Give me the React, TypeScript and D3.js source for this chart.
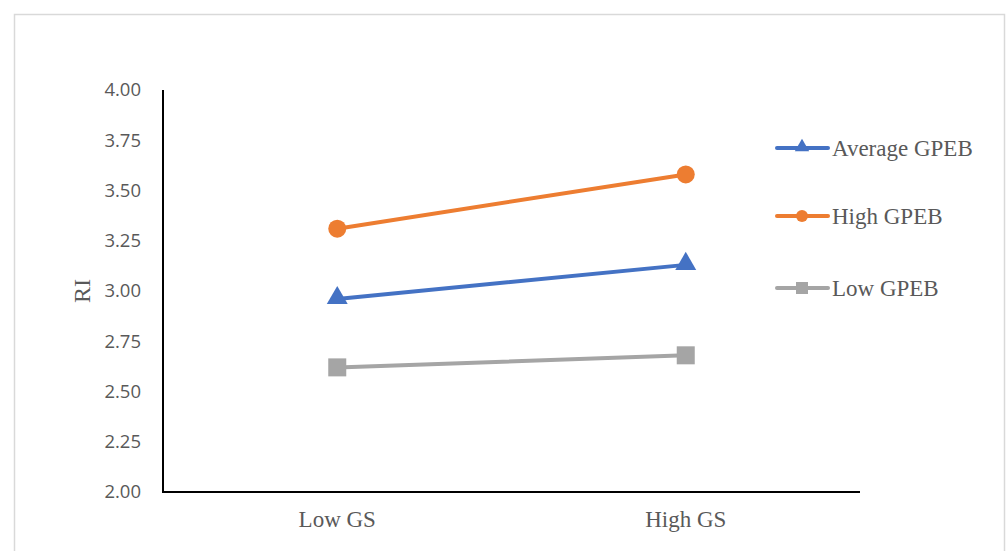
import React from "react";
import * as d3 from "d3";

const categories = ["Low GS", "High GS"];
const seriesNames = ["Average GPEB", "High GPEB", "Low GPEB"];
const averageValues = [2.96, 3.13];
const highValues = [3.31, 3.58];
const lowValues = [2.62, 2.68];
const yTicks = [2.0, 2.25, 2.5, 2.75, 3.0, 3.25, 3.5, 3.75, 4.0];

const colors = ["#4472C4", "#ED7D31", "#A5A5A5"];
const markers = ["triangle", "circle", "square"];
const seriesValues = [averageValues, highValues, lowValues];

const W = 1006;
const H = 551;
const plot = { left: 163, right: 860, top: 90, bottom: 492 };

function Marker({ kind, x, y, color }: { kind: string; x: number; y: number; color: string }) {
  if (kind === "circle") return <circle cx={x} cy={y} r={9} fill={color} />;
  if (kind === "square") return <rect x={x - 9} y={y - 9} width={18} height={18} fill={color} />;
  const sym = d3.symbol().type(d3.symbolTriangle).size(190)();
  return <path d={sym || ""} transform={`translate(${x},${y - 1})`} fill={color} />;
}

export default function App() {
  const x = d3.scaleBand().domain(categories).range([plot.left, plot.right]).padding(0);
  const y = d3.scaleLinear().domain([2, 4]).range([plot.bottom, plot.top]);
  const line = d3
    .line<number>()
    .x((_, i) => (x(categories[i]) as number) + x.bandwidth() / 2)
    .y((v) => y(v));

  const legendY = [148, 216, 288];

  return (
    <svg width={W} height={H} style={{ position: "absolute", left: 0, top: 0 }}>
      <rect x={0} y={0} width={W} height={H} fill="#fff" />
      <rect x={14.5} y={14.5} width={990} height={560} fill="#fff" stroke="#d9d9d9" strokeWidth={1.5} />

      {yTicks.map((t) => (
        <text
          key={t}
          x={141}
          y={y(t)}
          dy="0.35em"
          textAnchor="end"
          fontFamily="'Open Sans', 'Noto Sans', sans-serif"
          fontSize={18.5}
          fill="#595959"
        >
          {t.toFixed(2)}
        </text>
      ))}

      <line x1={plot.left} x2={plot.left} y1={plot.top} y2={plot.bottom + 1} stroke="#000" strokeWidth={2} />
      <line x1={plot.left} x2={plot.right} y1={plot.bottom} y2={plot.bottom} stroke="#000" strokeWidth={2} />

      {categories.map((c) => (
        <text
          key={c}
          x={(x(c) as number) + x.bandwidth() / 2}
          y={527}
          textAnchor="middle"
          fontFamily="'Liberation Serif', 'Times New Roman', serif"
          fontSize={23}
          fill="#595959"
        >
          {c}
        </text>
      ))}

      <text
        transform={`translate(90,${(plot.top + plot.bottom) / 2}) rotate(-90)`}
        textAnchor="middle"
        fontFamily="'Liberation Serif', 'Times New Roman', serif"
        fontSize={24}
        fill="#595959"
      >
        RI
      </text>

      {seriesValues.map((vals, si) => (
        <g key={seriesNames[si]}>
          <path d={line(vals) || ""} fill="none" stroke={colors[si]} strokeWidth={4} strokeLinecap="round" />
          {vals.map((v, i) => (
            <Marker
              key={i}
              kind={markers[si]}
              x={(x(categories[i]) as number) + x.bandwidth() / 2}
              y={y(v)}
              color={colors[si]}
            />
          ))}
        </g>
      ))}

      {seriesNames.map((name, si) => (
        <g key={name}>
          <line x1={777} x2={828} y1={legendY[si]} y2={legendY[si]} stroke={colors[si]} strokeWidth={4} strokeLinecap="round" />
          {markers[si] === "circle" ? (
            <circle cx={802} cy={legendY[si]} r={6} fill={colors[si]} />
          ) : markers[si] === "square" ? (
            <rect x={796} y={legendY[si] - 6} width={12} height={12} fill={colors[si]} />
          ) : (
            <path d={d3.symbol().type(d3.symbolTriangle).size(90)() || ""} transform={`translate(802,${legendY[si] - 1})`} fill={colors[si]} />
          )}
          <text
            x={832}
            y={legendY[si]}
            dy="0.35em"
            fontFamily="'Liberation Serif', 'Times New Roman', serif"
            fontSize={23}
            fill="#595959"
          >
            {name}
          </text>
        </g>
      ))}
    </svg>
  );
}
